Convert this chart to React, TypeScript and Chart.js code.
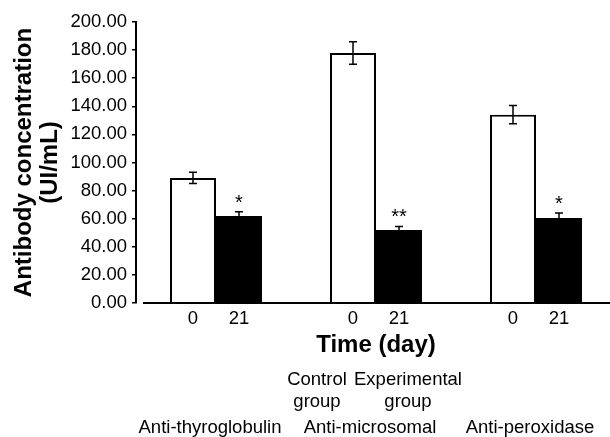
import React, { useEffect, useRef } from 'react';
import { Chart, registerables } from 'chart.js';

Chart.register(...registerables);

const groups = ['Anti-thyroglobulin', 'Anti-microsomal', 'Anti-peroxidase'];
const dayLabels = ['0', '21'];
const controlValues = [89, 178, 134];
const controlErrors = [4, 8, 6.5];
const experimentalValues = [62, 52, 60.5];
const experimentalErrors = [3, 2.5, 3.5];
const significance = ['*', '**', '*'];
const yMin = 0;
const yMax = 200;
const yStep = 20;
const yTitle = ['Antibody concentration', '(UI/mL)'];
const xTitle = 'Time (day)';
const legendControl = ['Control', 'group'];
const legendExperimental = ['Experimental', 'group'];

const FONT = "'Liberation Sans', Arial, Helvetica, sans-serif";

const annotPlugin = {
  id: 'annot',
  afterDatasetsDraw(chart: any) {
    const ctx = chart.ctx;
    const yScale = chart.scales.y;
    const area = chart.chartArea;
    ctx.save();
    ctx.strokeStyle = '#000';
    ctx.fillStyle = '#000';

    // error bars
    const sets = [
      { vals: controlValues, errs: controlErrors },
      { vals: experimentalValues, errs: experimentalErrors },
    ];
    sets.forEach((s, di) => {
      const meta = chart.getDatasetMeta(di);
      meta.data.forEach((bar: any, j: number) => {
        const x = bar.x;
        const top = yScale.getPixelForValue(s.vals[j] + s.errs[j]);
        const bot = yScale.getPixelForValue(s.vals[j] - s.errs[j]);
        ctx.lineWidth = 1.5;
        ctx.beginPath();
        ctx.moveTo(x, top);
        ctx.lineTo(x, bot);
        ctx.moveTo(x - 4, top);
        ctx.lineTo(x + 4, top);
        ctx.moveTo(x - 4, bot);
        ctx.lineTo(x + 4, bot);
        ctx.stroke();
        if (di === 1) {
          ctx.font = `20px ${FONT}`;
          ctx.textAlign = 'center';
          ctx.textBaseline = 'alphabetic';
          ctx.fillText(significance[j], x, top - 3);
        }
      });
    });

    // x axis line
    ctx.lineWidth = 2;
    ctx.beginPath();
    ctx.moveTo(area.left + 7, area.bottom);
    ctx.lineTo(area.right, area.bottom);
    ctx.stroke();

    // day labels under each bar
    ctx.font = `18.5px ${FONT}`;
    ctx.textAlign = 'center';
    ctx.textBaseline = 'alphabetic';
    [0, 1].forEach((di) => {
      const meta = chart.getDatasetMeta(di);
      meta.data.forEach((bar: any) => {
        ctx.fillText(dayLabels[di], bar.x, area.bottom + 21);
      });
    });

    const cx = (area.left + area.right) / 2;
    // axis title
    ctx.font = `bold 24px ${FONT}`;
    ctx.fillText(xTitle, cx, area.bottom + 49);

    // legend-like group labels
    ctx.font = `18.5px ${FONT}`;
    ctx.fillText(legendControl[0], cx - 59, area.bottom + 82);
    ctx.fillText(legendControl[1], cx - 59, area.bottom + 104);
    ctx.fillText(legendExperimental[0], cx + 32, area.bottom + 82);
    ctx.fillText(legendExperimental[1], cx + 32, area.bottom + 104);

    // group names
    const xScale = chart.scales.x;
    groups.forEach((g, i) => {
      ctx.fillText(g, xScale.getPixelForValue(i) - 6, area.bottom + 130);
    });
    ctx.restore();
  },
};

export default function App() {
  const ref = useRef<HTMLCanvasElement>(null);

  useEffect(() => {
    if (!ref.current) return;
    const chart = new Chart(ref.current, {
      type: 'bar',
      data: {
        labels: groups,
        datasets: [
          {
            label: 'Control group',
            data: controlValues,
            backgroundColor: '#ffffff',
            borderColor: '#000000',
            borderWidth: 2,
            barPercentage: 1,
            categoryPercentage: 0.575,
          },
          {
            label: 'Experimental group',
            data: experimentalValues,
            backgroundColor: '#000000',
            borderColor: '#000000',
            borderWidth: 2,
            barPercentage: 1,
            categoryPercentage: 0.575,
          },
        ],
      },
      options: {
        animation: false,
        responsive: true,
        maintainAspectRatio: false,
        devicePixelRatio: 1,
        layout: { padding: { top: 22, right: 14, bottom: 134, left: 0 } },
        plugins: {
          legend: { display: false },
          tooltip: { enabled: false },
        },
        scales: {
          x: {
            ticks: { display: false },
            grid: { display: false },
            border: { display: false },
            afterFit: (s: any) => {
              s.height = 0;
            },
          },
          y: {
            min: yMin,
            max: yMax,
            ticks: {
              stepSize: yStep,
              color: '#000',
              font: { family: FONT, size: 18.5 },
              padding: 5,
              callback: (v: any) => Number(v).toFixed(2),
            },
            grid: {
              display: true,
              drawOnChartArea: false,
              drawTicks: true,
              tickLength: 4,
              color: '#000',
              lineWidth: 1.5,
            },
            border: { display: true, color: '#000', width: 2 },
            title: {
              display: true,
              text: yTitle,
              color: '#000',
              font: { family: FONT, size: 24, weight: 'bold', lineHeight: 1.1 },
              padding: { top: 11, bottom: 0 },
            },
            afterFit: (s: any) => {
              s.width = 136;
            },
          },
        },
      },
      plugins: [annotPlugin],
    });
    return () => chart.destroy();
  }, []);

  return (
    <div
      style={{
        position: 'absolute',
        left: 0,
        top: 0,
        width: 610,
        height: 437,
        overflow: 'hidden',
        background: '#fff',
      }}
    >
      <div style={{ position: 'relative', width: 630, height: 437 }}>
        <canvas ref={ref} />
      </div>
    </div>
  );
}
